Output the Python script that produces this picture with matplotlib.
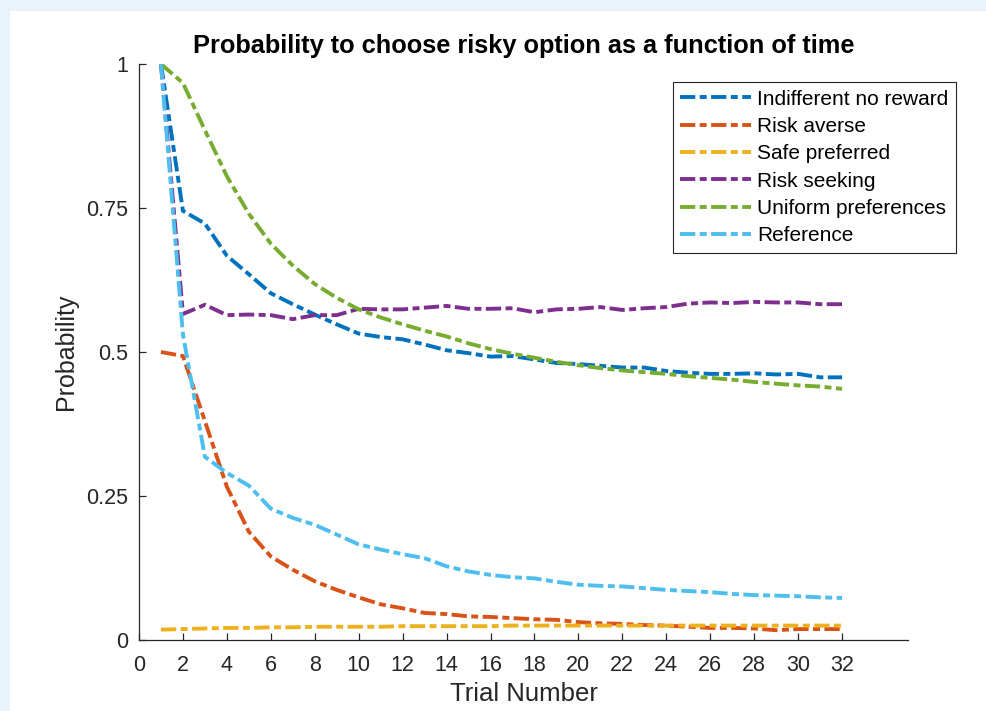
import matplotlib
matplotlib.use('Agg')
import matplotlib.pyplot as plt
from matplotlib.patches import Rectangle

plt.rcParams['font.family'] = ['Liberation Sans', 'DejaVu Sans']
plt.rcParams['lines.scale_dashes'] = False

trials = list(range(1, 33))

indifferent = [1.0, 0.745, 0.723, 0.667, 0.635, 0.602, 0.583, 0.565, 0.548, 0.532,
               0.526, 0.522, 0.513, 0.503, 0.498, 0.492, 0.493, 0.487, 0.481, 0.479,
               0.476, 0.473, 0.473, 0.467, 0.464, 0.462, 0.462, 0.463, 0.461, 0.462,
               0.456, 0.456]
risk_averse = [0.5, 0.493, 0.38, 0.266, 0.188, 0.145, 0.122, 0.102, 0.087, 0.074,
               0.062, 0.055, 0.047, 0.045, 0.041, 0.040, 0.038, 0.036, 0.035, 0.031,
               0.029, 0.028, 0.026, 0.025, 0.023, 0.021, 0.021, 0.020, 0.017, 0.019,
               0.019, 0.019]
safe_preferred = [0.018, 0.019, 0.020, 0.021, 0.021, 0.022, 0.022, 0.023, 0.023, 0.023,
                  0.023, 0.024, 0.024, 0.024, 0.024, 0.024, 0.025, 0.025, 0.025, 0.025,
                  0.025, 0.025, 0.025, 0.025, 0.025, 0.025, 0.025, 0.025, 0.025, 0.025,
                  0.025, 0.025]
risk_seeking = [1.0, 0.566, 0.582, 0.564, 0.565, 0.564, 0.557, 0.564, 0.564, 0.575,
                0.574, 0.574, 0.577, 0.580, 0.575, 0.575, 0.576, 0.569, 0.574, 0.575,
                0.578, 0.573, 0.576, 0.578, 0.584, 0.586, 0.585, 0.587, 0.586, 0.586,
                0.583, 0.583]
uniform = [1.0, 0.967, 0.885, 0.805, 0.740, 0.688, 0.650, 0.618, 0.594, 0.574,
           0.560, 0.548, 0.537, 0.527, 0.515, 0.505, 0.497, 0.490, 0.483, 0.477,
           0.472, 0.468, 0.465, 0.462, 0.458, 0.455, 0.452, 0.448, 0.445, 0.442,
           0.440, 0.436]
reference = [1.0, 0.53, 0.318, 0.290, 0.268, 0.228, 0.212, 0.200, 0.183, 0.166,
             0.157, 0.149, 0.142, 0.128, 0.119, 0.113, 0.109, 0.107, 0.101, 0.096,
             0.094, 0.093, 0.090, 0.087, 0.085, 0.083, 0.080, 0.078, 0.077, 0.076,
             0.074, 0.073]

series = [
    ('Indifferent no reward', indifferent, '#0072BD'),
    ('Risk averse', risk_averse, '#D95319'),
    ('Safe preferred', safe_preferred, '#EDB120'),
    ('Risk seeking', risk_seeking, '#7E2F8E'),
    ('Uniform preferences', uniform, '#77AC30'),
    ('Reference', reference, '#4DBEEE'),
]

x_ticks = list(range(0, 33, 2))
y_ticks = [0, 0.25, 0.5, 0.75, 1]
y_tick_labels = ['0', '0.25', '0.5', '0.75', '1']

fig = plt.figure(figsize=(9.87, 7.11), dpi=100, facecolor='#e9f3fa')
fig.add_artist(Rectangle((10 / 987, 0), 1, 1 - 11 / 711, transform=fig.transFigure,
                         facecolor='white', edgecolor='none', zorder=-10))
ax = fig.add_axes([139 / 987, 1 - 640 / 711, 769 / 987, 576 / 711])
ax.set_facecolor('white')

for label, values, color in series:
    ax.plot(trials, values, color=color, lw=2.8, label=label,
            dashes=(11, 3.2, 5, 3.2))

ax.set_xlim(0, 35)
ax.set_ylim(0, 1)
ax.set_xticks(x_ticks)
ax.set_yticks(y_ticks)
ax.set_yticklabels(y_tick_labels)

ax.spines['top'].set_visible(False)
ax.spines['right'].set_visible(False)
for s in ['left', 'bottom']:
    ax.spines[s].set_color('#262626')
    ax.spines[s].set_linewidth(0.9)
ax.tick_params(direction='in', length=5, width=0.9, colors='#262626',
               labelsize=15.5)
ax.tick_params(axis='x', pad=11)
ax.tick_params(axis='y', pad=8)

ax.set_xlabel('Trial Number', fontsize=18.5, color='#262626', labelpad=4)
ax.set_ylabel('Probability', fontsize=18, color='#262626', labelpad=6)
ax.set_title('Probability to choose risky option as a function of time',
             fontsize=18.3, fontweight='bold', pad=8)

leg = ax.legend(loc='upper right', bbox_to_anchor=(955.7 / 987, 1 - 82.3 / 711),
                bbox_transform=fig.transFigure, fontsize=15, handlelength=3.4,
                handletextpad=0.3, labelspacing=0.4, borderpad=0.35,
                borderaxespad=0, fancybox=False, framealpha=1)
leg.get_frame().set_edgecolor('#262626')
leg.get_frame().set_linewidth(0.8)

plt.savefig('out.png', dpi=100, facecolor=fig.get_facecolor())
